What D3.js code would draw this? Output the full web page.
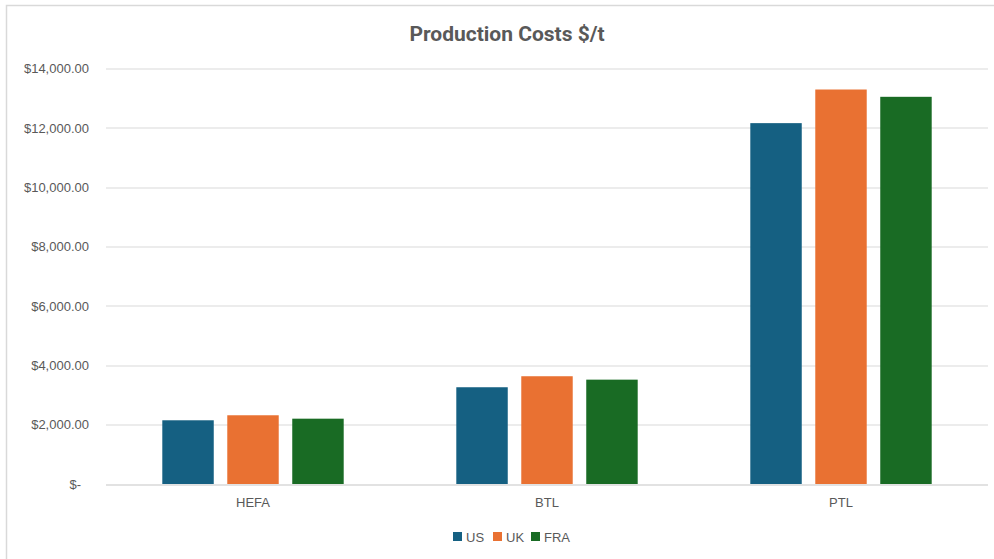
<!DOCTYPE html>
<html>
<head>
<meta charset="utf-8">
<script src="https://cdn.jsdelivr.net/npm/d3@7"></script>
<style>
  html, body { margin: 0; padding: 0; background: #fff; }
  svg { display: block; }
</style>
</head>
<body>
<svg id="chart" width="994" height="559"></svg>
<script>
// Production cost per tonne by pathway and country
const categories = ["HEFA", "BTL", "PTL"];
const seriesNames = ["US", "UK", "FRA"];
const usValues = [2147, 3260, 12159];
const ukValues = [2316, 3631, 13292];
const fraValues = [2201, 3516, 13046];
const yTicks = [0, 2000, 4000, 6000, 8000, 10000, 12000, 14000];
const colors = ["#156082", "#E97132", "#196B24"];

const seriesValues = [usValues, ukValues, fraValues];

const svg = d3.select("#chart");
const W = 994, H = 559;
const margin = { left: 106, right: 6, top: 68.5, bottom: 75 };
const plotW = W - margin.left - margin.right;
const plotH = H - margin.top - margin.bottom;
const font = "'Liberation Sans', Arial, sans-serif";

// chart frame (left and top edges)
svg.append("path")
  .attr("d", `M6.5,${H} V5.5 H${W}`)
  .attr("fill", "none")
  .attr("stroke", "#d9d9d9")
  .attr("stroke-width", 1.5);

svg.append("text")
  .attr("x", 507)
  .attr("y", 41)
  .attr("text-anchor", "middle")
  .attr("font-family", "Roboto, 'Liberation Sans', sans-serif")
  .attr("font-weight", 700)
  .attr("font-size", 21)
  .attr("fill", "#595959")
  .text("Production Costs $/t");

const g = svg.append("g").attr("transform", `translate(${margin.left},${margin.top})`);

const x0 = d3.scaleBand().domain(categories).range([0, plotW]).padding(0);
const y = d3.scaleLinear().domain([0, 14000]).range([plotH, 0]);

const step = x0.bandwidth();
const barW = step * 0.175;
const barGap = step * 0.046;
const x1 = d3.scaleBand().domain(seriesNames)
  .range([-(1.5 * barW + barGap), 1.5 * barW + barGap])
  .paddingInner(barGap / (barW + barGap)).paddingOuter(0);

// gridlines
g.append("g")
  .selectAll("line")
  .data(yTicks)
  .join("line")
  .attr("x1", 0).attr("x2", plotW)
  .attr("y1", d => Math.round(y(d)) + 0.5)
  .attr("y2", d => Math.round(y(d)) + 0.5)
  .attr("stroke", "#d9d9d9")
  .attr("stroke-width", d => d === 0 ? 1.5 : 1);

// y axis labels
const fmt = d => d === 0 ? "$-" : "$" + d3.format(",.2f")(d);
const yAxis = d3.axisLeft(y).tickValues(yTicks).tickFormat(fmt).tickSize(0).tickPadding(17);
const yg = g.append("g").call(yAxis);
yg.select(".domain").remove();
yg.selectAll("text")
  .attr("font-family", font)
  .attr("font-size", 13)
  .attr("fill", "#595959");
yg.selectAll(".tick").filter(d => d === 0).select("text").attr("dx", -8);

// bars
const groups = g.append("g")
  .selectAll("g")
  .data(categories)
  .join("g")
  .attr("transform", d => `translate(${x0(d) + step / 2},0)`);

groups.selectAll("rect")
  .data((c, i) => seriesNames.map((s, j) => ({ s, j, v: seriesValues[j][i] })))
  .join("rect")
  .attr("x", d => x1(d.s))
  .attr("width", x1.bandwidth())
  .attr("y", d => y(d.v))
  .attr("height", d => y(0) - y(d.v))
  .attr("fill", d => colors[d.j]);

// x axis labels
const xAxis = d3.axisBottom(x0).tickSize(0).tickPadding(14);
const xg = g.append("g").attr("transform", `translate(0,${plotH})`).call(xAxis);
xg.select(".domain").remove();
xg.selectAll("text")
  .attr("font-family", font)
  .attr("font-size", 13)
  .attr("fill", "#595959");

// legend
const legend = svg.append("g").attr("transform", "translate(453,537)");
const legendX = [0, 40, 78];
const items = legend.selectAll("g")
  .data(seriesNames)
  .join("g")
  .attr("transform", (d, i) => `translate(${legendX[i]},0)`);
items.append("rect")
  .attr("x", 0).attr("y", -5)
  .attr("width", 9).attr("height", 9)
  .attr("fill", (d, i) => colors[i]);
items.append("text")
  .attr("x", 13).attr("y", 4.5)
  .attr("font-family", font)
  .attr("font-size", 13)
  .attr("fill", "#595959")
  .text(d => d);
</script>
</body>
</html>
